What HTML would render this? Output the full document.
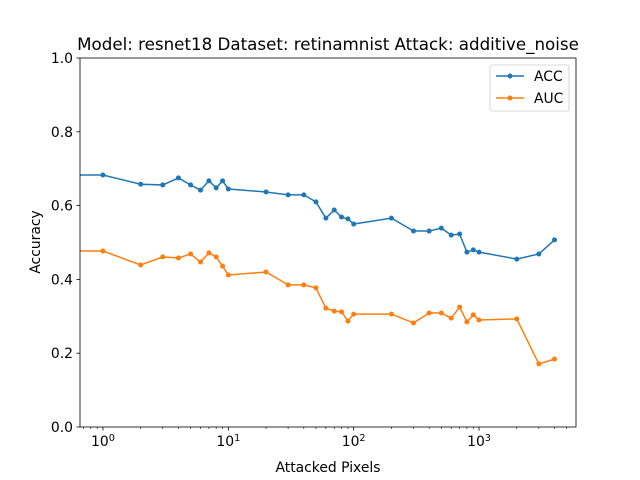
<!DOCTYPE html>
<html><head><meta charset="utf-8"><style>body{margin:0;background:#fff}svg{display:block;font-family:"DejaVu Sans","Liberation Sans",sans-serif}</style></head>
<body>
<svg id="chart" width="640" height="480"></svg>
<script>
const pixels = [0.656,1,2,3,4,5,6,7,8,9,10,20,30,40,50,60,70,80,90,100,200,300,400,500,600,700,800,900,1000,2000,3000,4000];
const accValues = [0.683,0.683,0.658,0.656,0.675,0.656,0.642,0.667,0.648,0.667,0.645,0.637,0.629,0.629,0.61,0.566,0.588,0.569,0.564,0.55,0.566,0.531,0.531,0.539,0.52,0.523,0.474,0.48,0.474,0.455,0.469,0.507];
const aucValues = [0.477,0.477,0.439,0.461,0.458,0.469,0.447,0.472,0.461,0.436,0.412,0.42,0.385,0.385,0.377,0.322,0.314,0.312,0.287,0.306,0.306,0.282,0.309,0.309,0.295,0.325,0.285,0.304,0.29,0.293,0.171,0.184];
const yTicks = [0,0.2,0.4,0.6,0.8,1.0];
const xTickExps = [0,1,2,3];

const NS='http://www.w3.org/2000/svg', svg=document.getElementById('chart');
const L=80,R=576,T=58,B=427, xmin=0.656, xmax=5935;
const X=v=>L+(Math.log10(v)-Math.log10(xmin))/(Math.log10(xmax)-Math.log10(xmin))*(R-L);
const Y=v=>B-v*(B-T);
function el(tag,attrs,parent){const e=document.createElementNS(NS,tag);for(const k in attrs)e.setAttribute(k,attrs[k]);(parent||svg).appendChild(e);return e;}
const defs=el('defs',{});const cp=el('clipPath',{id:'clip'},defs);el('rect',{x:L,y:T,width:R-L,height:B-T},cp);

yTicks.forEach(v=>{
  const t=el('line',{x1:L-3.5,x2:L,y1:Y(v),y2:Y(v),stroke:'#000','stroke-width':0.8});
  
  const tx=el('text',{x:L-7,y:Y(v)+5,'text-anchor':'end','font-size':13.9});
  
  tx.textContent=v.toFixed(1);
});
xTickExps.forEach(e=>{
  const x=X(Math.pow(10,e));
  const t=el('line',{x1:x,x2:x,y1:B,y2:B+3.5,stroke:'#000','stroke-width':0.8});
  
  const tx=el('text',{x:x,y:B+19,'text-anchor':'middle','font-size':13.9});
  
  tx.textContent='10';
  const sp=el('tspan',{dy:-5,'font-size':9.7},tx);sp.textContent=String(e);
});
for(let e=-1;e<=3;e++)for(let m=2;m<=9;m++){const v=m*Math.pow(10,e);if(v<xmin||v>xmax)continue;const x=X(v);
  const t=el('line',{x1:x,x2:x,y1:B,y2:B+2,stroke:'#000','stroke-width':0.6});
  }

function series(vals,color,name){
  const g=el('g',{'clip-path':'url(#clip)'});
  
  const p=el('polyline',{points:pixels.map((x,i)=>X(x)+','+Y(vals[i])).join(' '),fill:'none',stroke:color,'stroke-width':1.5},g);
  
  pixels.forEach((x,i)=>{if(i===0)return;const c=el('circle',{cx:X(x),cy:Y(vals[i]),r:2.5,fill:color},g);
    });
}
series(accValues,'#1f77b4','acc');
series(aucValues,'#ff7f0e','auc');

const frame=el('rect',{x:L,y:T,width:R-L,height:B-T,fill:'none',stroke:'#000','stroke-width':0.8});


const title=el('text',{x:(L+R)/2,y:50,'text-anchor':'middle','font-size':16.7});

title.textContent='Model: resnet18 Dataset: retinamnist Attack: additive_noise';
const xl=el('text',{x:(L+R)/2,y:472,'text-anchor':'middle','font-size':13.9});

xl.textContent='Attacked Pixels';
const yl=el('text',{x:0,y:0,'text-anchor':'middle','font-size':13.9,transform:'translate(40,242) rotate(-90)'});

yl.textContent='Accuracy';

const lg=el('g',{});
el('rect',{x:490,y:65,width:79,height:46,rx:2,fill:'#fff',stroke:'#ccc','stroke-width':0.8},lg);
[['ACC','#1f77b4',76],['AUC','#ff7f0e',98]].forEach(([n,c,y])=>{
  const e=el('g',{},lg);
  el('line',{x1:496,x2:524,y1:y,y2:y,stroke:c,'stroke-width':1.5},e);
  el('circle',{cx:510,cy:y,r:2.5,fill:c},e);
  const t=el('text',{x:534,y:y+5,'font-size':13.9,fill:'#000'},e);t.textContent=n;
});
</script>
</body></html>
